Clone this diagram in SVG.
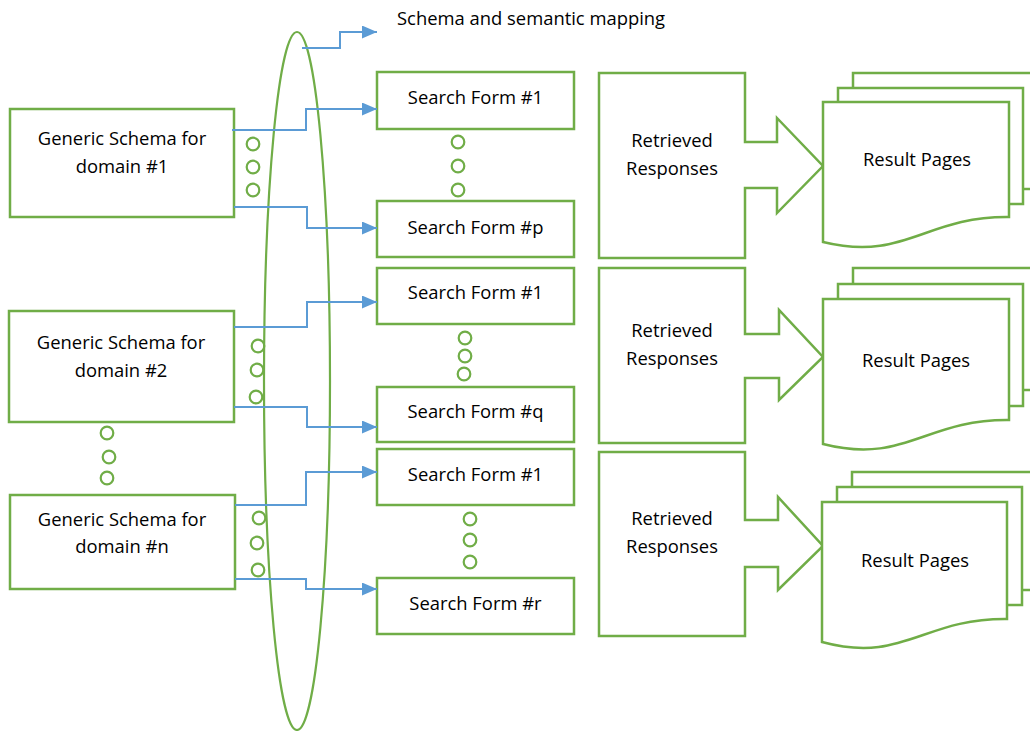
<svg xmlns="http://www.w3.org/2000/svg" width="1030" height="731" viewBox="0 0 1030 731">
  <defs>
    <style>
      .box { fill: #ffffff; stroke: #70AD47; stroke-width: 2.5; }
      .dot { fill: #ffffff; stroke: #70AD47; stroke-width: 2.2; }
      .ring { fill: none; stroke: #70AD47; stroke-width: 2.2; }
      .link { fill: none; stroke: #5B9BD5; stroke-width: 2; marker-end: url(#head); }
      .label { font-family: "Open Sans", "Noto Sans", sans-serif; font-size: 18.4px; fill: #000000; text-anchor: middle; }
      .caption { font-family: "Open Sans", "Noto Sans", sans-serif; font-size: 18.4px; fill: #000000; }
    </style>
    <marker id="head" markerUnits="userSpaceOnUse" markerWidth="16" markerHeight="14" refX="15" refY="6.5" orient="auto">
      <path d="M0,0 L15,6.5 L0,13 Z" fill="#5B9BD5"/>
    </marker>
  </defs>

  <rect width="1030" height="731" fill="#ffffff"/>

  <!-- domain schemas -->
  <g id="schema-1">
    <rect class="box" x="10" y="109" width="224" height="108"/>
    <text class="label" x="122" y="145">Generic Schema for</text>
    <text class="label" x="122" y="173">domain #1</text>
  </g>
  <g id="schema-2">
    <rect class="box" x="9" y="311" width="225" height="111"/>
    <text class="label" x="121" y="349">Generic Schema for</text>
    <text class="label" x="121" y="377">domain #2</text>
  </g>
  <g id="schema-n">
    <rect class="box" x="10" y="495" width="225" height="94"/>
    <text class="label" x="122" y="526">Generic Schema for</text>
    <text class="label" x="122" y="553">domain #n</text>
  </g>

  <!-- search forms -->
  <g id="form-1-1">
    <rect class="box" x="377" y="72" width="197" height="57"/>
    <text class="label" x="475.5" y="104">Search Form #1</text>
  </g>
  <g id="form-1-p">
    <rect class="box" x="377" y="201" width="197" height="56"/>
    <text class="label" x="475.5" y="234">Search Form #p</text>
  </g>
  <g id="form-2-1">
    <rect class="box" x="377" y="268" width="197" height="56"/>
    <text class="label" x="475.5" y="299">Search Form #1</text>
  </g>
  <g id="form-2-q">
    <rect class="box" x="377" y="387" width="197" height="55"/>
    <text class="label" x="475.5" y="418">Search Form #q</text>
  </g>
  <g id="form-n-1">
    <rect class="box" x="377" y="449" width="197" height="56"/>
    <text class="label" x="475.5" y="481">Search Form #1</text>
  </g>
  <g id="form-n-r">
    <rect class="box" x="377" y="578" width="197" height="56"/>
    <text class="label" x="475.5" y="610">Search Form #r</text>
  </g>

  <!-- retrieved responses (block arrows) -->
  <g id="responses-1">
    <path class="box" d="M599,73 H745 V142 H777 V118 L823,166 L777,213 V188 H745 V258 H599 Z"/>
    <text class="label" x="672" y="147">Retrieved</text>
    <text class="label" x="672" y="175">Responses</text>
  </g>
  <g id="responses-2">
    <path class="box" d="M599,268 H745 V334 H779 V310 L823,357 L779,400 V378 H745 V443 H599 Z"/>
    <text class="label" x="672" y="337">Retrieved</text>
    <text class="label" x="672" y="365">Responses</text>
  </g>
  <g id="responses-n">
    <path class="box" d="M599,452 H745 V520 H778 V497 L823,546 L778,590 V567 H745 V636 H599 Z"/>
    <text class="label" x="672" y="525">Retrieved</text>
    <text class="label" x="672" y="553">Responses</text>
  </g>

  <!-- result page stacks -->
  <g id="results-1">
    <rect class="box" x="853" y="73" width="200" height="116"/>
    <rect class="box" x="838" y="88" width="185" height="116"/>
    <path class="box" d="M823,102 H1009 V217 C925,216 905,262 823,242 Z"/>
    <text class="label" x="917" y="166">Result Pages</text>
  </g>
  <g id="results-2">
    <rect class="box" x="853" y="268" width="200" height="122"/>
    <rect class="box" x="838" y="284" width="185" height="122"/>
    <path class="box" d="M823,299 H1009 V420 C925,419 905,465 823,444 Z"/>
    <text class="label" x="916" y="367">Result Pages</text>
  </g>
  <g id="results-n">
    <rect class="box" x="852" y="472" width="200" height="118"/>
    <rect class="box" x="837" y="487" width="185" height="118"/>
    <path class="box" d="M822,502 H1007 V619 C923,618 903,664 822,642 Z"/>
    <text class="label" x="915" y="567">Result Pages</text>
  </g>

  <!-- ellided items -->
  <g id="ellipsis-dots">
    <circle class="dot" cx="253" cy="144" r="6.3"/>
    <circle class="dot" cx="253" cy="167" r="6.3"/>
    <circle class="dot" cx="253" cy="190" r="6.3"/>
    <circle class="dot" cx="458" cy="142" r="6.3"/>
    <circle class="dot" cx="458" cy="166" r="6.3"/>
    <circle class="dot" cx="458" cy="190" r="6.3"/>
    <circle class="dot" cx="258" cy="346" r="6.3"/>
    <circle class="dot" cx="257" cy="370" r="6.3"/>
    <circle class="dot" cx="256" cy="397" r="6.3"/>
    <circle class="dot" cx="465" cy="338" r="6.3"/>
    <circle class="dot" cx="465" cy="356" r="6.3"/>
    <circle class="dot" cx="464" cy="374" r="6.3"/>
    <circle class="dot" cx="107" cy="433" r="6.3"/>
    <circle class="dot" cx="109" cy="457" r="6.3"/>
    <circle class="dot" cx="107" cy="478" r="6.3"/>
    <circle class="dot" cx="259" cy="518" r="6.3"/>
    <circle class="dot" cx="257" cy="543" r="6.3"/>
    <circle class="dot" cx="258" cy="570" r="6.3"/>
    <circle class="dot" cx="470" cy="519" r="6.3"/>
    <circle class="dot" cx="470" cy="540" r="6.3"/>
    <circle class="dot" cx="470" cy="562" r="6.3"/>
  </g>

  <!-- schema and semantic mapping layer -->
  <g id="mapping">
    <ellipse class="ring" cx="297" cy="381" rx="33" ry="349"/>
    <text class="caption" x="397" y="25">Schema and semantic mapping</text>
  </g>

  <!-- connectors -->
  <g id="connectors">
    <polyline class="link" points="302,48 340,48 340,32 377,32"/>
    <polyline class="link" points="232,130 306,130 306,109 377,109"/>
    <polyline class="link" points="234,207 307,207 307,228 377,228"/>
    <polyline class="link" points="234,327 307,327 307,302 377,302"/>
    <polyline class="link" points="234,407 307,407 307,427 377,427"/>
    <polyline class="link" points="235,505 306,505 306,472 377,472"/>
    <polyline class="link" points="235,579 306,579 306,589 377,589"/>
  </g>
</svg>
